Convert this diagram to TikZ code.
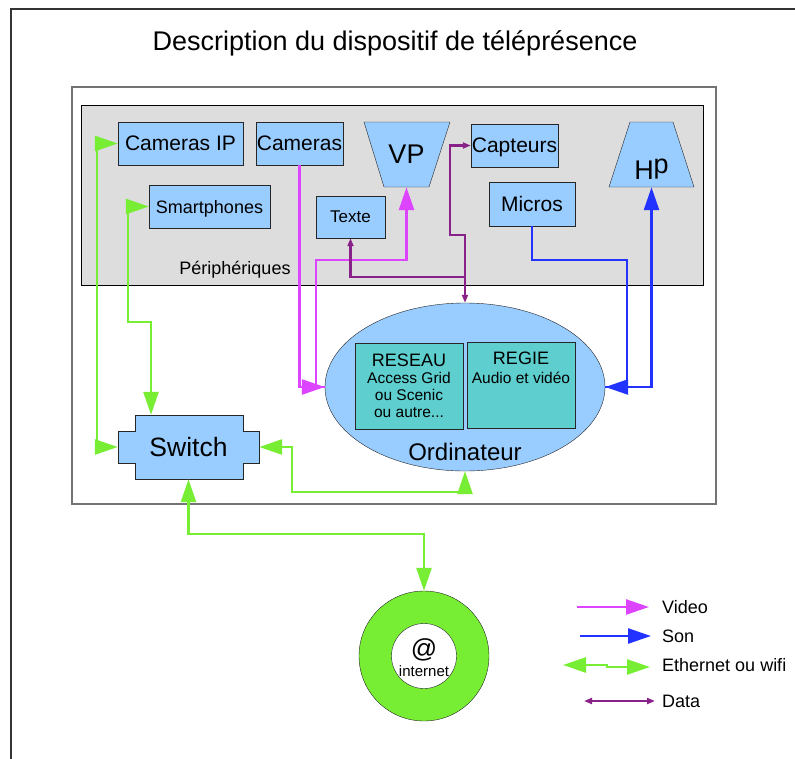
\documentclass[tikz,border=0pt]{standalone}
\usepackage{fontspec}
\setmainfont{Liberation Sans}
\usetikzlibrary{arrows.meta,shapes.geometric,positioning}

\definecolor{devblue}{RGB}{153,204,255}
\definecolor{regieteal}{RGB}{94,206,206}
\definecolor{greyzone}{RGB}{221,221,221}
\definecolor{ethgreen}{RGB}{119,238,51}
\definecolor{vidmagenta}{RGB}{221,68,255}
\definecolor{sonblue}{RGB}{34,51,255}
\definecolor{datapurple}{RGB}{136,34,136}

\newcommand{\fsz}[1]{\fontsize{#1}{#1}\selectfont}

\tikzset{
	tri/.tip={Triangle[length=23pt,width=15pt]},
	smalltri/.tip={Triangle[length=8pt,width=6pt]},
	device/.style={draw=black!85, fill=devblue, inner sep=0pt, text depth=0pt},
	eth/.style={draw=ethgreen, line width=2.6pt, tri-tri},
	video/.style={draw=vidmagenta, line width=2.6pt, -tri},
	son/.style={draw=sonblue, line width=2.6pt, -tri},
	data/.style={draw=datapurple, line width=2.2pt},
}

\begin{document}
\begin{tikzpicture}[x=1pt, y=-1pt]
	\useasboundingbox (0,0) rectangle (795,758);

	% frames
	\draw[line width=2pt, black!80] (11,790) -- (11,9) -- (810,9);
	\node[draw=black!55, line width=1.3pt, minimum width=644, minimum height=417, inner sep=0pt] (cadre) at (394,295.5) {};
	\node[draw=black, fill=greyzone, minimum width=622, minimum height=180, inner sep=0pt] (zone) at (392,195) {};
	\node[font=\fsz{18}] (periph) at (235,270) {Périphériques};
	\node[font=\fsz{27}] (titre) at (395,43) {Description du dispositif de téléprésence};

	\foreach \name/\x/\y/\w/\h/\s/\txt in {camip/180.5/143.5/125/43/21/Cameras IP, cam/299.5/143.5/87/43/21/Cameras, smart/209.5/206.5/121/43/18/Smartphones, texte/350.5/217/69/42/17/Texte, capt/514.5/145.5/87/43/21/Capteurs, micros/532/204/86/44/21/Micros}{% draw the devices
		\node[device, minimum width=\w, minimum height=\h, font=\fsz{\s}] (\name) at (\x,\y) {\txt};
	}

	% projector and speakers
	\draw[draw=black!85, fill=devblue] (364,122) -- (450,122) -- (429,187) -- (384,187) -- cycle;
	\node[minimum width=45, minimum height=65, inner sep=0pt, font=\fsz{27}] (vp) at (406.5,154.5) {VP};
	\draw[draw=black!85, fill=devblue] (630,122) -- (673,122) -- (694,187) -- (609,187) -- cycle;
	\node[minimum width=45, minimum height=65, inner sep=0pt] (hp) at (651.5,154.5) {};
	\node[font=\fsz{27}, inner sep=0pt] (hptxt) at (651.5,169) {H\raisebox{6pt}{p}};

	% computer
	\node[ellipse, draw=black!85, fill=devblue, minimum width=280, minimum height=168, inner sep=0pt] (ordi) at (465,387) {};
	\node[draw=black!85, fill=regieteal, minimum width=108, minimum height=86, inner sep=0pt, align=center, font=\fontsize{15.5}{17}\selectfont] (reseau) at (409,386) {{\fontsize{18}{19}\selectfont RESEAU}\\Access Grid\\ou Scenic\\ou autre...};
	\node[draw=black!85, fill=regieteal, minimum width=108, minimum height=86, inner sep=0pt] (regie) at (521,385) {};
	\node[align=center, font=\fontsize{15.5}{19}\selectfont, inner sep=0pt, below=10pt of regie.north] (regietxt) {{\fsz{18}REGIE}\\Audio et vidéo};
	\node[font=\fsz{24}] (ordilbl) at (465,452) {Ordinateur};

	% switch
	\draw[draw=black!85, fill=devblue] (135,415) -- (243,415) -- (243,431) -- (259,431) -- (259,463) -- (243,463) -- (243,479) -- (135,479) -- (135,463) -- (118,463) -- (118,431) -- (135,431) -- cycle;
	\node[minimum width=141, minimum height=64, inner sep=0pt, font=\fsz{26.5}] (switch) at (188.5,447) {Switch};

	% internet
	\node[circle, draw=black!85, fill=ethgreen, minimum size=130, inner sep=0pt] (inet) at (424,656) {};
	\node[circle, draw=black!85, fill=white, minimum size=65, inner sep=0pt] (inetin) at (424,656) {};
	\node[font=\fsz{26}, inner sep=0pt] (arob) at (424,650) {@};
	\node[font=\fsz{15}, inner sep=0pt] (inetlbl) at (424,671) {internet};

	% bends of the connectors
	\coordinate (e1) at (97,300);
	\coordinate (e2) at (128,322);
	\coordinate (e3) at ([xshift=-37.5]switch.north);
	\coordinate (e4) at (292,492);
	\coordinate (e5) at (300,534);
	\coordinate (v1) at (316,260);
	\coordinate (b1) at (627,260);
	\coordinate (d1) at (450,235);
	\coordinate (d2) at (465,277);

	% ethernet ou wifi
	\draw[eth] (camip.west) -| (e1) |- (switch.west);
	\draw[eth] (smart.west) -| (e2) -| (e3);
	\draw[eth] (switch.east) -| (e4) -| (ordi.south);
	\draw[eth] (switch.south) |- (e5) -| (inet.north);

	% video
	\draw[video] (ordi.west) -| (v1) -| (vp.south);
	\draw[video] (cam.south) |- (ordi.west);

	% son
	\draw[son] (micros.south) |- (b1) |- (ordi.east);
	\draw[son] (ordi.east) -| (hp.south);

	% data
	\draw[data, smalltri-smalltri] (capt.west) -| (d1) -| (ordi.north);
	\draw[data, -smalltri] (d2) -| (texte.south);

	% legend
	\foreach \name/\y/\txt in {lgvid/607/Video, lgson/636/Son, lgeth/665/Ethernet ou wifi, lgdata/701/Data}{
		\node[anchor=west, inner sep=0pt, font=\fsz{18}] (\name) at (662,\y) {\txt};
	}
	\draw[video] ([xshift=-85]lgvid.west) -- ([xshift=-13]lgvid.west);
	\draw[son] ([xshift=-82]lgson.west) -- ([xshift=-11]lgson.west);
	\draw[eth] ([xshift=-99]lgeth.west) -- ++(44,0) -- ++(0,2) -- ([xshift=-12,yshift=-2]lgeth.west);
	\draw[data, smalltri-smalltri] ([xshift=-78]lgdata.west) -- ([xshift=-7]lgdata.west);

\end{tikzpicture}
\end{document}
